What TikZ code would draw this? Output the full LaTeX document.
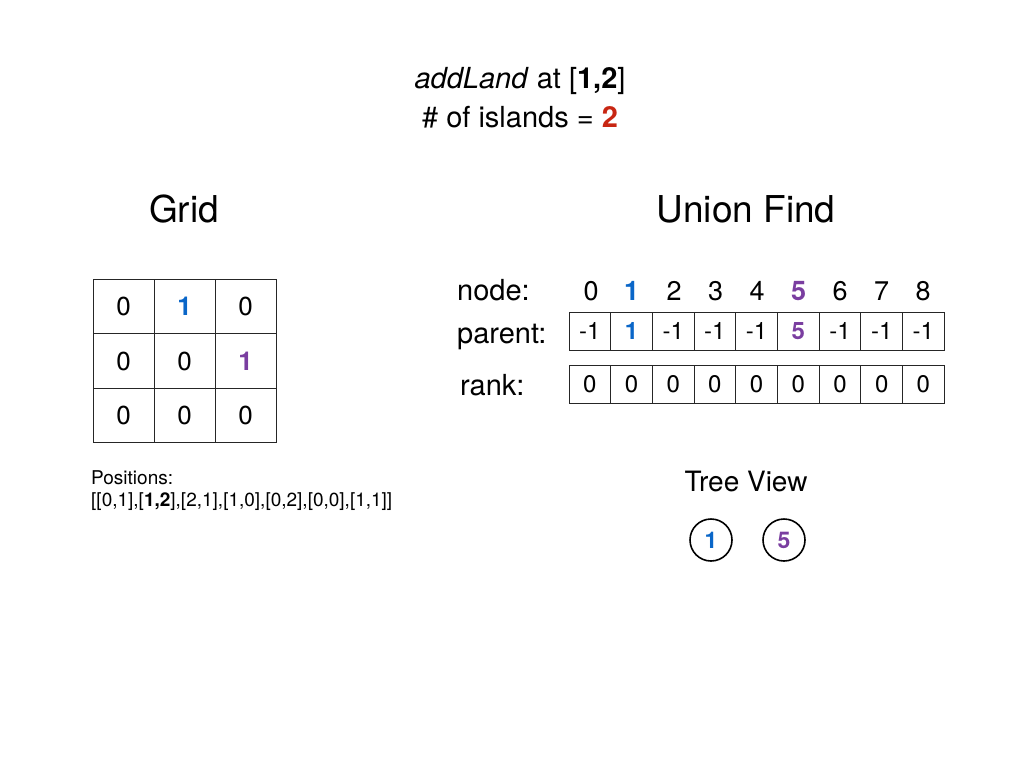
\documentclass[tikz,border=0pt]{standalone}
\usepackage{fontspec}
\setmainfont{TeX Gyre Heros}
\usepackage{tikz}
\definecolor{oneblue}{RGB}{10,102,200}
\definecolor{fivepurple}{RGB}{122,62,160}
\definecolor{countred}{RGB}{200,38,18}
\newcommand{\fs}[1]{\fontsize{#1}{#1}\selectfont}
\begin{document}
\begin{tikzpicture}[x=1pt,y=-1pt]
                \tikzstyle{every node}+=[inner sep=0pt]
                \tikzstyle{gcell}=[draw=black!85, line width=0.9pt, minimum width=61pt, minimum height=54.5pt, font=\fs{26}]
                \tikzstyle{acell}=[draw=black!85, line width=0.9pt, minimum width=41.7pt, minimum height=38pt, font=\fs{24}]
                \tikzstyle{idx}=[font=\fs{27}]
                \tikzstyle{tnode}=[draw, circle, line width=1.6pt, minimum size=42pt, font=\bfseries\fs{23}]
                \useasboundingbox (0,0) rectangle (1024,768);
                % header
                \node (add) at (520,81) [font=\fs{29}] {\textit{addLand} at [\textbf{1,2}]};
                \node (cnt) at (520,117) [font=\fs{29}] {\# of islands = \textcolor{countred}{\textbf{2}}};
                \node (gtitle) at (184,209) [font=\fs{37}] {Grid};
                \node (utitle) at (746,209) [font=\fs{37}] {Union Find};
                % grid
                \node (g00) at (123.5,306.5) [gcell] {0};
                \node (g01) at (184.5,306.5) [gcell, text=oneblue, font=\bfseries\fs{26}] {1};
                \node (g02) at (245.5,306.5) [gcell] {0};
                \node (g10) at (123.5,361) [gcell] {0};
                \node (g11) at (184.5,361) [gcell] {0};
                \node (g12) at (245.5,361) [gcell, text=fivepurple, font=\bfseries\fs{26}] {1};
                \node (g20) at (123.5,415.5) [gcell] {0};
                \node (g21) at (184.5,415.5) [gcell] {0};
                \node (g22) at (245.5,415.5) [gcell] {0};
                \node (pos) at (91,484) [anchor=base west, font=\fs{19}] {Positions:};
                \node (plist) at (91,506) [anchor=base west, font=\fs{19}] {[[0,1],[\textbf{1,2}],[2,1],[1,0],[0,2],[0,0],[1,1]]};
                % union find arrays
                \node (nlab) at (457,300) [anchor=base west, font=\fs{29}] {node:};
                \node (plab) at (457,343) [anchor=base west, font=\fs{29}] {parent:};
                \node (rlab) at (460,395) [anchor=base west, font=\fs{29}] {rank:};
                \node (n0) at (591,291) [idx] {0};
                \node (n1) at (631.5,291) [idx, text=oneblue, font=\bfseries\fs{27}] {1};
                \node (n2) at (674,291) [idx] {2};
                \node (n3) at (715.5,291) [idx] {3};
                \node (n4) at (757,291) [idx] {4};
                \node (n5) at (798.5,291) [idx, text=fivepurple, font=\bfseries\fs{27}] {5};
                \node (n6) at (840,291) [idx] {6};
                \node (n7) at (881.5,291) [idx] {7};
                \node (n8) at (923,291) [idx] {8};
                \node (p0) at (589.8,331) [acell] {-1};
                \node (p1) at (631.5,331) [acell, text=oneblue, font=\bfseries\fs{24}] {1};
                \node (p2) at (673.2,331) [acell] {-1};
                \node (p3) at (714.9,331) [acell] {-1};
                \node (p4) at (756.6,331) [acell] {-1};
                \node (p5) at (798.3,331) [acell, text=fivepurple, font=\bfseries\fs{24}] {5};
                \node (p6) at (840,331) [acell] {-1};
                \node (p7) at (881.7,331) [acell] {-1};
                \node (p8) at (923.4,331) [acell] {-1};
                \node (r0) at (589.8,384) [acell] {0};
                \node (r1) at (631.5,384) [acell] {0};
                \node (r2) at (673.2,384) [acell] {0};
                \node (r3) at (714.9,384) [acell] {0};
                \node (r4) at (756.6,384) [acell] {0};
                \node (r5) at (798.3,384) [acell] {0};
                \node (r6) at (840,384) [acell] {0};
                \node (r7) at (881.7,384) [acell] {0};
                \node (r8) at (923.4,384) [acell] {0};
                % tree view
                \node (tview) at (746,481) [font=\fs{28}] {Tree View};
                \node (t1) at (711,540) [tnode, text=oneblue] {1};
                \node (t5) at (784,540) [tnode, text=fivepurple] {5};
\end{tikzpicture}
\end{document}
